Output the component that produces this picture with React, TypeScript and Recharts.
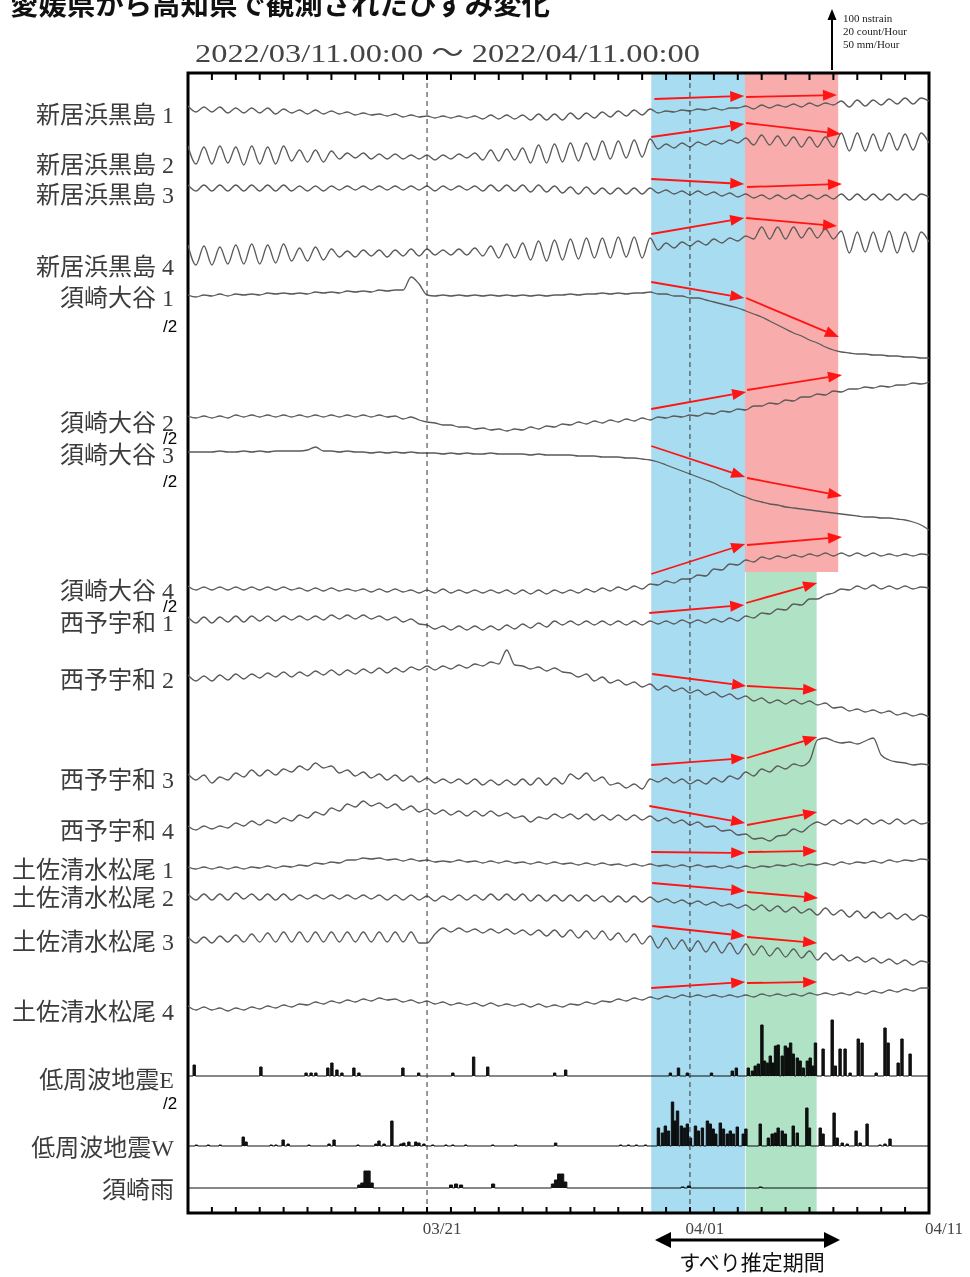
import React from 'react';
import { ComposedChart, Line, Area, XAxis, YAxis, ReferenceArea, ReferenceLine } from 'recharts';

// 2022/03/11 00:00 を 0 日目とした 1/3 日刻みの値(上向きが正、縦 1 単位 ≒ 1.8 nstrain)
const kuroshima1 = [
  3, -3, 2, -3, 2, -4, 1, -4, 1, -4, 1, -5,
  0, -4, -1, -5, -1, -5, -2, -5, -3, -6, -4, -6,
  -5, -7, -5, -8, -6, -8, -7, -9, -7, -9, -7, -9,
  -7, -10, -6, -10, -6, -10, -6, -11, -5, -11, -5, -11,
  -4, -10, -4, -9, -3, -8, -2, -7, -1, -6, 0, -4,
  -2, -3, -1, -2, 0, -1, 1, -1, 1, 1, 3, 0,
  4, 1, 4, 2, 5, 2, 6, 3, 6, 4, 8, 2,
  9, 3, 9, 4, 10, 5, 11, 5, 11, 8,
];
const kuroshima2 = [
  9, -9, 8, -9, 9, -8, 8, -10, 9, -9, 8, -9,
  9, -6, 5, -7, 5, -7, 4, -4, 2, -3, 2, -4,
  1, -4, 1, -4, 0, -4, 0, -5, 0, -4, 1, -3,
  2, -5, 5, -6, 6, -5, 7, -8, 10, -8, 11, -7,
  12, -6, 12, -5, 14, -4, 14, -3, 15, -2, 16, 6,
  11, 7, 12, 8, 13, 10, 14, 11, 15, 12, 17, 10,
  20, 10, 19, 9, 18, 8, 18, 8, 18, 8, 22, 4,
  22, 4, 21, 4, 22, 5, 21, 5, 22, 12,
];
const kuroshima3 = [
  3, -3, 3, -3, 3, -3, 3, -3, 3, -3, 3, -3,
  3, -3, 2, -3, 2, -3, 2, -2, 2, -2, 2, -2,
  2, -2, 2, -2, 2, -2, 2, -3, 2, -2, 2, -2,
  2, -3, 3, -3, 3, -3, 3, -4, 3, -4, 2, -5,
  1, -6, 1, -6, 0, -6, 0, -6, 0, -6, 0, -5,
  -2, -6, -3, -7, -3, -7, -4, -8, -5, -9, -6, -10,
  -7, -11, -7, -11, -7, -11, -7, -11, -7, -11, -6, -12,
  -6, -12, -6, -12, -6, -12, -6, -12, -6, -9,
];
const kuroshima4 = [
  10, -10, 9, -10, 8, -9, 10, -9, 11, -9, 10, -8,
  11, -6, 7, -6, 8, -5, 6, -2, 4, -2, 5, -1,
  5, -2, 5, -1, 6, -1, 6, 0, 5, 0, 6, 0,
  7, -1, 9, -3, 11, -3, 12, -5, 14, -6, 15, -5,
  16, -4, 17, -3, 17, -3, 18, -2, 18, -3, 17, 5,
  12, 7, 13, 9, 14, 10, 16, 12, 17, 14, 19, 16,
  28, 16, 28, 16, 28, 17, 27, 17, 26, 16, 24, 2,
  23, 3, 23, 3, 24, 2, 23, 3, 23, 13,
];
const otani1 = [
  1, -1, 1, 0, 2, 0, 2, 1, 2, 1, 3, 2,
  3, 2, 3, 2, 4, 3, 4, 3, 5, 4, 5, 4,
  6, 5, 6, 6, 19, 12, 1, 0, 1, 0, 1, 0,
  1, 0, 1, 0, 1, 0, 1, 0, 1, 0, 1, 1,
  2, 1, 2, 2, 3, 2, 3, 2, 3, 3, 4, 2,
  2, 0, 0, -2, -2, -4, -6, -8, -10, -12, -15, -18,
  -21, -25, -29, -33, -37, -40, -44, -47, -51, -54, -56, -57,
  -58, -58, -59, -59, -60, -60, -61, -61, -62, -62,
];
const otani2 = [
  1, -1, 1, -1, 1, -1, 2, 0, 2, 0, 2, 0,
  2, 0, 2, 0, 2, 0, 2, 0, 2, 0, 2, 0,
  2, 0, 1, -2, 0, -3, -5, -6, -8, -8, -10, -10,
  -12, -11, -13, -12, -14, -12, -13, -10, -12, -9, -10, -7,
  -8, -5, -7, -4, -6, -3, -5, -2, -4, -1, -3, 0,
  -1, 1, 0, 2, 1, 4, 3, 6, 5, 8, 7, 11,
  11, 14, 13, 17, 16, 20, 20, 23, 22, 26, 25, 28,
  28, 30, 29, 31, 30, 32, 32, 34, 33, 35,
];
const otani3 = [
  0, 0, 0, 0, 1, 0, 0, 1, 0, 1, 0, 1,
  1, 1, 1, 2, 5, 1, 1, 0, 1, 0, 0, -1,
  0, -1, 0, -1, 0, -1, -1, -1, -2, -1, -2, -1,
  -2, -2, -1, -2, -2, -2, -2, -3, -2, -3, -3, -3,
  -3, -4, -4, -4, -5, -5, -5, -6, -6, -7, -8, -10,
  -13, -16, -19, -22, -25, -28, -31, -35, -38, -42, -45, -48,
  -50, -52, -53, -55, -56, -57, -58, -59, -60, -61, -62, -63,
  -64, -65, -65, -66, -66, -67, -68, -70, -73, -78,
];
const otani4 = [
  2, -2, 1, -2, 1, -2, 1, -2, 1, -2, 1, -2,
  1, -2, 0, -3, 0, -3, 0, -3, -1, -3, -1, -4,
  -1, -4, -1, -4, -2, -5, -2, -5, -1, -5, -2, -5,
  -2, -5, -2, -5, -2, -6, -2, -6, -2, -6, -2, -5,
  -2, -5, -1, -4, 0, -3, 1, -2, 2, -1, 4, 3,
  7, 5, 9, 9, 13, 12, 19, 18, 24, 23, 28, 26,
  31, 29, 32, 30, 33, 31, 34, 32, 35, 32, 35, 32,
  35, 32, 35, 32, 34, 32, 34, 32, 34, 33,
];
const seiyo1 = [
  3, -3, 3, -3, 3, -2, 4, -2, 4, -1, 4, -1,
  4, 0, 4, 0, 4, 0, 5, 1, 5, 1, 5, 1,
  4, 0, 3, -2, 1, -4, -5, -9, -6, -10, -6, -10,
  -6, -10, -6, -10, -5, -9, -4, -8, -3, -7, -1, -5,
  -1, -5, -1, -5, -1, -5, -1, -5, -1, -5, -1, -4,
  -1, -4, 0, -3, 0, -3, 1, -2, 2, -1, 4, 2,
  7, 6, 11, 10, 16, 15, 21, 21, 25, 27, 31, 30,
  34, 31, 35, 31, 34, 31, 34, 31, 33, 32,
];
const seiyo2 = [
  3, -3, 2, -3, 3, -2, 4, -1, 4, 0, 5, 1,
  6, 1, 6, 2, 7, 3, 8, 3, 8, 4, 9, 5,
  10, 5, 10, 6, 11, 8, 12, 8, 12, 9, 13, 10,
  14, 12, 16, 14, 28, 13, 12, 9, 11, 7, 10, 6,
  5, 1, 4, -3, 1, -5, -2, -7, -4, -9, -6, -12,
  -8, -13, -10, -15, -12, -17, -14, -19, -16, -21, -18, -23,
  -20, -25, -22, -26, -22, -26, -23, -27, -25, -30, -29, -33,
  -31, -34, -32, -35, -33, -37, -35, -38, -36, -39,
];
const seiyo3 = [
  3, -3, 2, -6, 0, -3, 4, 0, 7, 1, 7, 2,
  8, 5, 11, 7, 14, 9, 11, 4, 7, 1, 5, -1,
  3, -3, 2, -4, 1, -5, -1, -6, -2, -6, -2, -7,
  -2, -8, -3, -8, -3, -8, -2, -8, -1, -8, -1, -7,
  3, -2, 4, -4, 0, -8, -6, -11, -7, -12, -2, -5,
  -1, -6, -2, -7, -3, -7, -1, -5, 1, -2, 5, 1,
  8, 5, 11, 8, 13, 11, 16, 37, 39, 36, 34, 35,
  33, 36, 39, 22, 17, 15, 14, 12, 13, 12,
];
const seiyo4 = [
  2, -2, 2, -1, 2, 0, 5, 2, 7, 3, 8, 5,
  10, 7, 13, 10, 16, 13, 20, 17, 24, 21, 27, 22,
  25, 20, 24, 18, 22, 16, 19, 14, 18, 13, 17, 12,
  17, 12, 17, 12, 15, 10, 12, 6, 11, 9, 14, 10,
  14, 9, 14, 8, 13, 8, 13, 8, 13, 8, 12, 7,
  10, 5, 8, 3, 6, 1, 2, -3, -2, -7, -6, -11,
  -10, -13, -8, -7, -1, -4, 2, 6, 3, 8, 4, 8,
  4, 9, 4, 8, 4, 9, 4, 8, 4, 6,
];
const matsuo1 = [
  1, -1, 1, -1, 1, -1, 1, -1, 1, 0, 2, 0,
  2, 1, 3, 2, 5, 4, 6, 5, 8, 8, 10, 9,
  10, 8, 9, 7, 9, 7, 8, 6, 7, 6, 8, 6,
  7, 5, 7, 5, 7, 5, 6, 4, 6, 4, 6, 4,
  5, 3, 5, 3, 5, 3, 4, 2, 4, 2, 4, 2,
  3, 1, 3, 1, 3, 1, 2, 0, 2, 0, 2, 0,
  2, 1, 3, 2, 4, 2, 4, 3, 5, 3, 6, 4,
  6, 5, 7, 5, 8, 6, 8, 7, 9, 8,
];
const matsuo2 = [
  3, -3, 3, -3, 3, -3, 4, -2, 3, -3, 3, -3,
  3, -3, 2, -2, 2, -2, 2, -2, 2, -2, 2, -2,
  2, -3, 2, -3, 2, -3, 1, -4, 1, -3, 2, -3,
  2, -3, 3, -3, 3, -3, 3, -4, 2, -4, 2, -4,
  2, -4, 2, -4, 1, -5, 1, -5, 1, -5, 0, -5,
  -2, -6, -3, -7, -4, -8, -5, -9, -7, -11, -8, -13,
  -8, -14, -9, -15, -10, -16, -12, -18, -11, -18, -13, -20,
  -14, -21, -15, -21, -16, -22, -17, -23, -18, -21,
];
const matsuo3 = [
  3, -3, 3, -3, 4, -2, 5, -2, 6, -2, 7, -2,
  8, -2, 8, -2, 8, -2, 8, -2, 8, -2, 8, -2,
  8, -2, 8, -2, 8, -3, -3, 6, 12, 8, 12, 8,
  11, 7, 11, 7, 11, 6, 10, 5, 10, 4, 10, 3,
  10, 2, 9, 1, 9, 0, 7, -2, 6, -4, 4, -8,
  2, -9, 0, -11, -1, -12, -2, -13, -3, -14, -4, -15,
  -6, -16, -8, -17, -9, -18, -11, -20, -13, -20, -15, -21,
  -17, -22, -18, -23, -19, -24, -20, -25, -21, -23,
];
const matsuo4 = [
  2, -2, 1, -2, 0, -3, 0, -2, 1, -1, 2, 0,
  3, 1, 4, 3, 6, 4, 7, 5, 8, 6, 9, 7,
  10, 8, 9, 6, 8, 5, 7, 4, 6, 3, 5, 3,
  5, 2, 5, 2, 4, 2, 4, 1, 4, 1, 3, 1,
  4, 3, 6, 4, 7, 6, 9, 7, 10, 8, 11, 9,
  12, 10, 13, 11, 13, 11, 13, 11, 13, 11, 13, 11,
  14, 12, 14, 12, 14, 12, 15, 13, 15, 13, 15, 13,
  16, 14, 17, 15, 18, 16, 19, 17, 20, 20,
];

const strainSeries = [
  kuroshima1, kuroshima2, kuroshima3, kuroshima4,
  otani1, otani2, otani3, otani4,
  seiyo1, seiyo2, seiyo3, seiyo4,
  matsuo1, matsuo2, matsuo3, matsuo4,
];
// 各トレースの基準の高さ(枠の下端から)
const strainLevels = [1104, 1058, 1025, 958, 917, 796, 761, 625, 593, 535, 436, 385, 345, 316, 273, 205];

// 低周波地震・雨量: [日, 高さ]
const lfeE = [
  [0.21, 11], [3.0, 9], [4.89, 3], [5.1, 3], [5.3, 3], [5.8, 8], [5.97, 13], [6.18, 6], [6.39, 3],
  [6.89, 8], [7.1, 3], [8.94, 8], [9.6, 3], [11.03, 3], [11.9, 19], [12.49, 9], [15.29, 3], [15.75, 6],
  [20.13, 3], [20.47, 8], [20.84, 3], [21.85, 3], [22.72, 5], [22.89, 8],
  [23.39, 8], [23.56, 5], [23.68, 10], [23.81, 12], [23.96, 51], [24.07, 15], [24.19, 13], [24.31, 20],
  [24.42, 13], [24.53, 30], [24.64, 31], [24.81, 20], [24.94, 30], [25.05, 28], [25.16, 33], [25.27, 22],
  [25.44, 18], [25.56, 15], [25.69, 8], [25.86, 15], [25.98, 18], [26.09, 10], [26.2, 33],
  [26.52, 27], [26.9, 56], [27.03, 10], [27.23, 27], [27.44, 27], [27.65, 3], [27.99, 37], [28.15, 33],
  [28.74, 3], [29.11, 48], [29.24, 33], [29.66, 13], [29.82, 37], [30.16, 22],
];
const lfeW = [
  [0.3, 1], [0.8, 1], [1.3, 1], [2.26, 9], [2.38, 4], [3.43, 1], [3.63, 1], [3.93, 6], [4.14, 2],
  [5.01, 1], [5.85, 2], [6.06, 6], [7.06, 1], [7.81, 2], [7.94, 5], [8.15, 2], [8.48, 25], [8.86, 2],
  [8.98, 3], [9.19, 4], [9.48, 4], [9.61, 3], [9.82, 2], [10.19, 1], [10.74, 1], [11.03, 1], [11.57, 1],
  [12.7, 1], [13.66, 1], [15.33, 3], [18.05, 1], [18.38, 1], [18.71, 1], [19.09, 1],
  [19.63, 18], [19.8, 13], [19.92, 20], [20.05, 15], [20.22, 44], [20.32, 25], [20.43, 35], [20.59, 20],
  [20.72, 18], [20.84, 22], [20.97, 8], [21.18, 20], [21.3, 15], [21.47, 18], [21.68, 25], [21.8, 22],
  [21.92, 17], [22.03, 12], [22.22, 23], [22.35, 17], [22.51, 12], [22.64, 15], [22.77, 12], [22.93, 19],
  [23.18, 12], [23.29, 17], [23.89, 22], [24.23, 8], [24.39, 12], [24.52, 13], [24.64, 18], [24.81, 15],
  [24.94, 12], [25.27, 20], [25.44, 13], [25.84, 38], [25.95, 18], [26.4, 18], [26.52, 12], [26.98, 33],
  [27.11, 8], [27.32, 3], [27.53, 2], [27.9, 15], [28.07, 3], [28.36, 22], [28.9, 1], [29.11, 2], [29.32, 7],
];
const rainSuzaki = [
  [7.1, 3], [7.23, 5], [7.36, 17], [7.49, 17], [7.62, 5], [10.94, 3], [11.15, 4], [11.36, 3],
  [12.7, 4], [15.2, 4], [15.33, 8], [15.46, 14], [15.59, 14], [15.72, 6], [20.63, 1], [20.89, 2], [23.89, 1],
];
const spikeSeries = [lfeE, lfeW, rainSuzaki];
const spikeLevels = [137, 67, 25];
const spikeWidths = [0.1, 0.1, 0.13];

const stationNames = [
  '新居浜黒島 1', '新居浜黒島 2', '新居浜黒島 3', '新居浜黒島 4',
  '須崎大谷 1', '須崎大谷 2', '須崎大谷 3', '須崎大谷 4',
  '西予宇和 1', '西予宇和 2', '西予宇和 3', '西予宇和 4',
  '土佐清水松尾 1', '土佐清水松尾 2', '土佐清水松尾 3', '土佐清水松尾 4',
  '低周波地震E', '低周波地震W', '須崎雨',
];
const labelShift = [6, 10, 7, 12, 2, 6, 3, 3, 3, 2, 3, 3, 2, 1, 2, 4, 4, 2, 2];
// "/2" の注記 (ラベル番号: ずれ)
const halfMarks: Record<number, number> = { 4: 28, 5: 15, 6: 26, 7: 15, 16: 23 };

const dateTicks = [10, 21, 31];
const dateLabels = ['03/21', '04/01', '04/11'];
const markerDays = [10, 21];

// すべり推定期間の帯 [開始日, 終了日, 下端, 上端, 色]
const periods: [number, number, number, number, string][] = [
  [19.38, 23.3, 0, 1140, '#a8dcf0'],
  [23.3, 27.2, 641, 1140, '#f8acac'],
  [23.33, 26.3, 0, 641, '#b0e3c5'],
];

// 赤い矢印 [日, 高さ, 日, 高さ]
const slipArrows = [
  [19.51, 1114, 23.27, 1117], [23.35, 1116, 27.15, 1118],
  [19.38, 1076, 23.27, 1089], [23.35, 1090, 27.32, 1079],
  [19.38, 1034, 23.27, 1029], [23.39, 1026, 27.36, 1029],
  [19.38, 979, 23.27, 995], [23.35, 995, 27.15, 987],
  [19.38, 931, 23.27, 915], [23.35, 915, 27.23, 876],
  [19.38, 804, 23.35, 821], [23.39, 823, 27.36, 838],
  [19.38, 767, 23.31, 736], [23.39, 735, 27.36, 717],
  [19.38, 639, 23.31, 669], [23.39, 668, 27.36, 676],
  [19.3, 600, 23.27, 608], [23.35, 610, 26.32, 630],
  [19.42, 539, 23.35, 527], [23.39, 527, 26.32, 523],
  [19.38, 448, 23.31, 455], [23.39, 455, 26.32, 476],
  [19.3, 407, 23.31, 390], [23.39, 388, 26.32, 401],
  [19.38, 361, 23.31, 360], [23.43, 361, 26.32, 362],
  [19.42, 330, 23.31, 322], [23.39, 321, 26.36, 315],
  [19.42, 287, 23.31, 277], [23.39, 276, 26.32, 270],
  [19.38, 225, 23.31, 231], [23.39, 230, 26.32, 231],
];

const PLOT_H = 1140;
const PLOT_LEFT = 188;
const PLOT_TOP = 73;
const DAY_W = 741 / 31;

const table = kuroshima1.map((_, i) => {
  const row: Record<string, number> = { d: i / 3 };
  strainSeries.forEach((s, k) => { row['s' + k] = strainLevels[k] + s[i]; });
  return row;
});

const spikeData = spikeSeries.map((events, k) => {
  const base = spikeLevels[k];
  const pts = [{ d: 0, v: base }];
  events.forEach(([d, h]) => {
    pts.push({ d, v: base + h });
    pts.push({ d: d + spikeWidths[k], v: base });
  });
  pts.push({ d: 31, v: base });
  return pts;
});

const allLevels = [...strainLevels, ...spikeLevels];
const dayTicks = Array.from({ length: 32 }, (_, i) => i);

const serif = "'Liberation Serif', 'Noto Sans CJK JP', serif";
const sans = "'Noto Sans CJK JP', sans-serif";

// 下端の内向き目盛りと日付ラベル
const DayTick = ({ x, y, payload }: any) => {
  const k = dateTicks.indexOf(payload.value);
  return (
    <g>
      <line x1={x} x2={x} y1={y - 6} y2={y} stroke="#000" strokeWidth={2} />
      {k >= 0 && (
        <text x={x + 15} y={y + 21} textAnchor="middle" fontSize={17} fontFamily={serif} fill="#444">
          {dateLabels[k]}
        </text>
      )}
    </g>
  );
};

const LabelTick = ({ x, y, payload }: any) => {
  const k = allLevels.indexOf(payload.value);
  if (k < 0) return null;
  const ly = y + labelShift[k];
  return (
    <g>
      <text x={x} y={ly} textAnchor="end" dominantBaseline="central" fontSize={24} fontFamily={serif} fill="#3c3c3c">
        {stationNames[k]}
      </text>
      {halfMarks[k] !== undefined && (
        <text x={163} y={ly + halfMarks[k]} dominantBaseline="central" fontSize={17} fontFamily="'Liberation Sans', sans-serif" fill="#000">
          /2
        </text>
      )}
    </g>
  );
};

const ArrowShape = (p: any) => {
  const { x1, y1, x2, y2 } = p;
  const a = Math.atan2(y2 - y1, x2 - x1);
  const len = 14;
  const half = 5.5;
  const bx = x2 - len * Math.cos(a);
  const by = y2 - len * Math.sin(a);
  const nx = -Math.sin(a) * half;
  const ny = Math.cos(a) * half;
  return (
    <g>
      <line x1={x1} y1={y1} x2={bx} y2={by} stroke="#ff1414" strokeWidth={1.8} />
      <polygon points={`${x2},${y2} ${bx + nx},${by + ny} ${bx - nx},${by - ny}`} fill="#ff1414" />
    </g>
  );
};

const BlendRect = (p: any) => (
  <rect x={p.x} y={p.y} width={p.width} height={p.height} fill={p.fill} style={{ mixBlendMode: 'multiply' }} />
);

export default function App() {
  return (
    <div style={{ position: 'absolute', left: 0, top: 0, width: 970, height: 1277, background: '#fff' }}>
      <ComposedChart width={970} height={1277} data={table} margin={{ top: 73, right: 41, bottom: 34, left: 8 }}>
        <XAxis
          dataKey="d"
          type="number"
          domain={[0, 31]}
          allowDataOverflow
          ticks={dayTicks}
          interval={0}
          tickSize={0}
          tickMargin={0}
          axisLine={false}
          tickLine={false}
          height={30}
          tick={DayTick}
        />
        <YAxis
          type="number"
          domain={[0, PLOT_H]}
          allowDataOverflow
          ticks={allLevels}
          interval={0}
          width={180}
          tickSize={0}
          tickMargin={14}
          axisLine={false}
          tickLine={false}
          tick={LabelTick}
        />
        {strainSeries.map((_, k) => (
          <Line
            key={'s' + k}
            dataKey={'s' + k}
            type="monotone"
            stroke="#5a5a5a"
            strokeWidth={1.3}
            dot={false}
            isAnimationActive={false}
          />
        ))}
        {spikeData.map((pts, k) => (
          <Area
            key={'e' + k}
            data={pts}
            dataKey="v"
            type="stepAfter"
            baseValue={spikeLevels[k]}
            stroke="#111"
            strokeWidth={1}
            fill="#111"
            fillOpacity={1}
            dot={false}
            activeDot={false}
            isAnimationActive={false}
          />
        ))}
        {periods.map(([x1, x2, y1, y2, c], k) => (
          <ReferenceArea key={'p' + k} x1={x1} x2={x2} y1={y1} y2={y2} fill={c} fillOpacity={1} shape={BlendRect} />
        ))}
        {markerDays.map((d) => (
          <ReferenceLine key={'m' + d} x={d} stroke="#333" strokeWidth={1} strokeDasharray="5 4" />
        ))}
        {slipArrows.map(([a, b, c, e], k) => (
          <ReferenceLine
            key={'a' + k}
            segment={[{ x: a, y: b }, { x: c, y: e }]}
            ifOverflow="visible"
            shape={ArrowShape}
          />
        ))}
        <ReferenceArea x1={0} x2={31} y1={0} y2={PLOT_H} fill="none" stroke="#000" strokeWidth={3} />
      </ComposedChart>
      <svg width={970} height={1277} style={{ position: 'absolute', left: 0, top: 0, pointerEvents: 'none' }}>
        {dayTicks.map((d) => (
          <line
            key={d}
            x1={PLOT_LEFT + d * DAY_W}
            x2={PLOT_LEFT + d * DAY_W}
            y1={PLOT_TOP}
            y2={PLOT_TOP + 7}
            stroke="#000"
            strokeWidth={2}
          />
        ))}
        <text x={10} y={15} fontSize={28} fontWeight={700} fontFamily={sans} fill="#111" textLength={540} lengthAdjust="spacingAndGlyphs">
          愛媛県から高知県で観測されたひずみ変化
        </text>
        <text x={195} y={62} fontSize={26} fontFamily={serif} fill="#444" textLength={505} lengthAdjust="spacingAndGlyphs">
          2022/03/11.00:00 ～ 2022/04/11.00:00
        </text>
        <line x1={832} x2={832} y1={70} y2={18} stroke="#000" strokeWidth={2} />
        <polygon points="827.5,20 836.5,20 832,9" fill="#000" />
        <text x={843} y={22} fontSize={11} fontFamily={serif} fill="#222">100 nstrain</text>
        <text x={843} y={35} fontSize={11} fontFamily={serif} fill="#222">20 count/Hour</text>
        <text x={843} y={48} fontSize={11} fontFamily={serif} fill="#222">50 mm/Hour</text>
        <line x1={668} x2={826} y1={1240} y2={1240} stroke="#000" strokeWidth={3} />
        <polygon points="655,1240 671,1232 671,1248" fill="#000" />
        <polygon points="840,1240 824,1232 824,1248" fill="#000" />
        <text x={752} y={1270} textAnchor="middle" fontSize={21} fontFamily={sans} fill="#111">
          すべり推定期間
        </text>
      </svg>
    </div>
  );
}
